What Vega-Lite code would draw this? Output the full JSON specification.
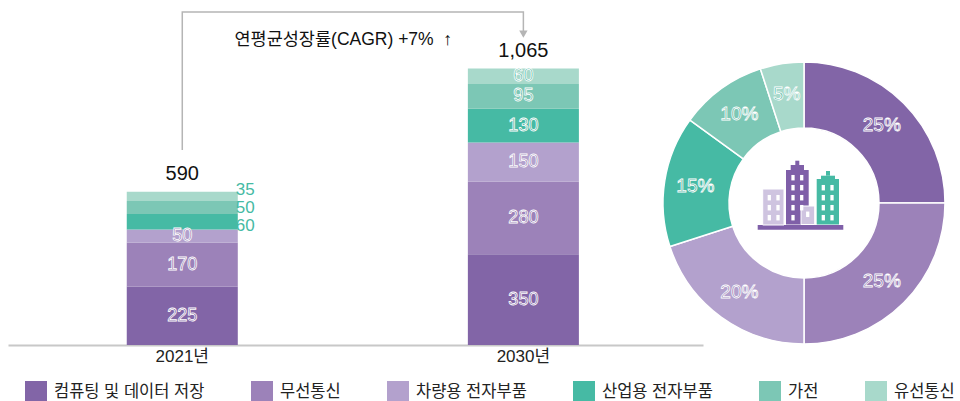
{
"$schema":"https://vega.github.io/schema/vega-lite/v6.json",
"padding":{"left":8,"top":0,"right":0,"bottom":0},
"background":"white",
"config":{"view":{"stroke":null},"font":"Liberation Sans, Noto Sans CJK KR"},
"bounds":"flush",
"spacing":0,
"resolve":{"scale":{"x":"independent","y":"independent","color":"independent"}},
"datasets":{
"bars":[
{"연도":"2021년","분야":"컴퓨팅 및 데이터 저장","순서":1,"값":225},
{"연도":"2021년","분야":"무선통신","순서":2,"값":170},
{"연도":"2021년","분야":"차량용 전자부품","순서":3,"값":50},
{"연도":"2021년","분야":"산업용 전자부품","순서":4,"값":60},
{"연도":"2021년","분야":"가전","순서":5,"값":50},
{"연도":"2021년","분야":"유선통신","순서":6,"값":35},
{"연도":"2030년","분야":"컴퓨팅 및 데이터 저장","순서":1,"값":350},
{"연도":"2030년","분야":"무선통신","순서":2,"값":280},
{"연도":"2030년","분야":"차량용 전자부품","순서":3,"값":150},
{"연도":"2030년","분야":"산업용 전자부품","순서":4,"값":130},
{"연도":"2030년","분야":"가전","순서":5,"값":95},
{"연도":"2030년","분야":"유선통신","순서":6,"값":60}
],
"share":[
{"분야":"컴퓨팅 및 데이터 저장","순서":1,"비중":25,"라벨":"25%"},
{"분야":"무선통신","순서":2,"비중":25,"라벨":"25%"},
{"분야":"차량용 전자부품","순서":3,"비중":20,"라벨":"20%"},
{"분야":"산업용 전자부품","순서":4,"비중":15,"라벨":"15%"},
{"분야":"가전","순서":5,"비중":10,"라벨":"10%"},
{"분야":"유선통신","순서":6,"비중":5,"라벨":"5%"}
],
"icon":[
{"부분":"옅은","x0":59.7,"x1":81,"h0":120,"h1":156},
{"부분":"옅은","x0":98,"x1":111.7,"h0":120.5,"h1":139},
{"부분":"보라","x0":83,"x1":105.7,"h0":120.5,"h1":175},
{"부분":"보라","x0":87.7,"x1":101,"h0":175,"h1":180},
{"부분":"보라","x0":92.3,"x1":96.3,"h0":180,"h1":184.3},
{"부분":"보라","x0":54.7,"x1":140.3,"h0":115.3,"h1":120},
{"부분":"청록","x0":113.7,"x1":136,"h0":120.5,"h1":166},
{"부분":"청록","x0":118,"x1":132,"h0":166,"h1":169.3},
{"부분":"청록","x0":123,"x1":127,"h0":169.3,"h1":174}
],
"windows":[
{"x":66.3,"h":147.3},{"x":75,"h":147.3},{"x":66.3,"h":137.3},{"x":75,"h":137.3},{"x":66.3,"h":127.3},{"x":75,"h":127.3},
{"x":90,"h":167.3},{"x":98.7,"h":167.3},{"x":90,"h":157.3},{"x":98.7,"h":157.3},{"x":90,"h":147.3},{"x":98.7,"h":147.3},{"x":90,"h":137.3},{"x":98.7,"h":137.3},{"x":90,"h":127.3},
{"x":120.3,"h":157.3},{"x":129,"h":157.3},{"x":120.3,"h":147.3},{"x":129,"h":147.3},{"x":120.3,"h":137.3},{"x":129,"h":137.3},{"x":120.3,"h":127.3},{"x":129,"h":127.3},
{"x":104.7,"h":130.7}
]
},
"hconcat":[
{
"width":695,"height":345,
"encoding":{
"x":{"field":"연도","type":"nominal","scale":{"type":"band","domain":["2021년","2030년"],"paddingInner":0.6745,"paddingOuter":0.356,"align":0.489},
"axis":{"title":null,"labelAngle":0,"labelFontSize":17,"labelColor":"#222","ticks":false,"domainColor":"#c8c8c8","domainWidth":2,"labelPadding":3}}
},
"layer":[
{"data":{"name":"bars"},"mark":{"type":"bar"},
"encoding":{
"y":{"field":"값","type":"quantitative","stack":"zero","scale":{"domain":[0,1329]},"axis":null},
"order":{"field":"순서","type":"quantitative"},
"color":{"field":"분야","type":"nominal","sort":null,
"scale":{"domain":["컴퓨팅 및 데이터 저장","무선통신","차량용 전자부품","산업용 전자부품","가전","유선통신"],"range":["#8265A7","#9C82B9","#B3A1CD","#46BAA4","#7CC7B5","#A8D9CB"]},
"legend":{"title":null,"orient":"none","legendX":17,"legendY":381,"direction":"horizontal","columns":6,"columnPadding":46,"symbolType":"square","symbolSize":484,"symbolStrokeWidth":0,"symbolOpacity":1,"labelFontSize":16.5,"labelColor":"#222","labelOffset":7,"labelLimit":300}}
}},
{"data":{"name":"bars"},"mark":{"type":"text","fontSize":18,"stroke":"white","strokeWidth":0.8,"baseline":"middle"},
"encoding":{
"y":{"field":"값","type":"quantitative","stack":"zero","bandPosition":0.5,"scale":{"domain":[0,1329]},"axis":null},
"order":{"field":"순서","type":"quantitative"},
"fill":{"field":"순서","type":"ordinal","legend":null,"scale":{"domain":[1,2,3,4,5,6],"range":["#6f5296","#7f63a0","#8a74ac","#35a58f","#4fae98","#3fae99"]}},
"text":{"condition":{"test":"datum['연도']=='2021년'&&datum['순서']>=4","value":""},"field":"값","type":"quantitative"}
}},
{"data":{"name":"bars"},"mark":{"type":"text","fontSize":17,"fill":"#46BAA4","baseline":"middle","dx":63,"dy":-6},
"encoding":{
"y":{"field":"값","type":"quantitative","stack":"zero","bandPosition":0.5,"scale":{"domain":[0,1329]},"axis":null},
"order":{"field":"순서","type":"quantitative"},
"text":{"condition":{"test":"!(datum['연도']=='2021년'&&datum['순서']==6)","value":""},"field":"값","type":"quantitative"}
}},
{"data":{"name":"bars"},"mark":{"type":"text","fontSize":17,"fill":"#46BAA4","baseline":"middle","dx":63,"dy":1},
"encoding":{
"y":{"field":"값","type":"quantitative","stack":"zero","bandPosition":0.5,"scale":{"domain":[0,1329]},"axis":null},
"order":{"field":"순서","type":"quantitative"},
"text":{"condition":{"test":"!(datum['연도']=='2021년'&&datum['순서']==5)","value":""},"field":"값","type":"quantitative"}
}},
{"data":{"name":"bars"},"mark":{"type":"text","fontSize":17,"fill":"#46BAA4","baseline":"middle","dx":63,"dy":4},
"encoding":{
"y":{"field":"값","type":"quantitative","stack":"zero","bandPosition":0.5,"scale":{"domain":[0,1329]},"axis":null},
"order":{"field":"순서","type":"quantitative"},
"text":{"condition":{"test":"!(datum['연도']=='2021년'&&datum['순서']==4)","value":""},"field":"값","type":"quantitative"}
}},
{"data":{"values":[{"연도":"2021년","합계":590,"표시":"590"},{"연도":"2030년","합계":1065,"표시":"1,065"}]},
"mark":{"type":"text","fontSize":20,"fill":"#111","baseline":"middle","dy":-18},
"encoding":{"y":{"field":"합계","type":"quantitative","scale":{"domain":[0,1329]},"axis":null},"text":{"field":"표시"}}},
{"data":{"values":[{"연도":"2021년","높이":751,"순서":1},{"연도":"2021년","높이":1283,"순서":2},{"연도":"2030년","높이":1283,"순서":3},{"연도":"2030년","높이":1190,"순서":4}]},
"mark":{"type":"line","color":"#b5b5b5","strokeWidth":1.5},
"encoding":{"y":{"field":"높이","type":"quantitative","scale":{"domain":[0,1329]},"axis":null},"order":{"field":"순서","type":"quantitative"}}},
{"data":{"values":[{"연도":"2030년","높이":1198}]},
"mark":{"type":"point","shape":"triangle-down","filled":true,"color":"#b5b5b5","size":70,"opacity":1},
"encoding":{"y":{"field":"높이","type":"quantitative","scale":{"domain":[0,1329]},"axis":null}}},
{"data":{"values":[{"연도":"2021년","높이":1175,"설명":"연평균성장률(CAGR) +7%\u00a0\u00a0↑"}]},
"mark":{"type":"text","fontSize":17.5,"fill":"#111","baseline":"middle","dx":161},
"encoding":{"y":{"field":"높이","type":"quantitative","scale":{"domain":[0,1329]},"axis":null},"text":{"field":"설명"}}}
]
},
{
"width":242,"height":345,
"layer":[
{"data":{"name":"share"},"mark":{"type":"arc","innerRadius":75,"outerRadius":141,"stroke":"white","strokeWidth":1.5},
"encoding":{
"x":{"datum":101,"type":"quantitative","scale":{"domain":[0,242]},"axis":null},
"y":{"datum":142,"type":"quantitative","scale":{"domain":[0,345]},"axis":null},
"theta":{"field":"비중","type":"quantitative","stack":true},
"order":{"field":"순서","type":"quantitative"},
"color":{"field":"분야","type":"nominal","legend":null,"scale":{"domain":["컴퓨팅 및 데이터 저장","무선통신","차량용 전자부품","산업용 전자부품","가전","유선통신"],"range":["#8265A7","#9C82B9","#B3A1CD","#46BAA4","#7CC7B5","#A8D9CB"]}}
}},
{"data":{"name":"share"},"mark":{"type":"text","fontSize":19,"stroke":"white","strokeWidth":0.8,"baseline":"middle","radius":110},
"encoding":{
"x":{"datum":101,"type":"quantitative","scale":{"domain":[0,242]},"axis":null},
"y":{"datum":142,"type":"quantitative","scale":{"domain":[0,345]},"axis":null},
"theta":{"field":"비중","type":"quantitative","stack":true},
"order":{"field":"순서","type":"quantitative"},
"fill":{"field":"순서","type":"ordinal","legend":null,"scale":{"domain":[1,2,3,4,5,6],"range":["#6f5296","#7f63a0","#8a74ac","#35a58f","#4fae98","#3fae99"]}},
"text":{"field":"라벨"}
}},
{"data":{"name":"icon"},"transform":[{"filter":"datum['부분']=='보라'"}],"mark":{"type":"rect","fill":"#7F5FA8"},
"encoding":{"x":{"field":"x0","type":"quantitative","scale":{"domain":[0,242]},"axis":null},"x2":{"field":"x1"},"y":{"field":"h0","type":"quantitative","scale":{"domain":[0,345]},"axis":null},"y2":{"field":"h1"}}},
{"data":{"name":"icon"},"transform":[{"filter":"datum['부분']=='청록'"}],"mark":{"type":"rect","fill":"#46BAA4"},
"encoding":{"x":{"field":"x0","type":"quantitative","scale":{"domain":[0,242]},"axis":null},"x2":{"field":"x1"},"y":{"field":"h0","type":"quantitative","scale":{"domain":[0,345]},"axis":null},"y2":{"field":"h1"}}},
{"data":{"name":"icon"},"transform":[{"filter":"datum['부분']=='옅은'"}],"mark":{"type":"rect","fill":"#CFC4E0","stroke":"white","strokeWidth":1},
"encoding":{"x":{"field":"x0","type":"quantitative","scale":{"domain":[0,242]},"axis":null},"x2":{"field":"x1"},"y":{"field":"h0","type":"quantitative","scale":{"domain":[0,345]},"axis":null},"y2":{"field":"h1"}}},
{"data":{"name":"windows"},"mark":{"type":"point","filled":true,"fill":"white","opacity":1,"size":30,"shape":"M-0.6,-1H0.6V1H-0.6Z"},
"encoding":{"x":{"field":"x","type":"quantitative","scale":{"domain":[0,242]},"axis":null},"y":{"field":"h","type":"quantitative","scale":{"domain":[0,345]},"axis":null}}}
]
}
]
}
